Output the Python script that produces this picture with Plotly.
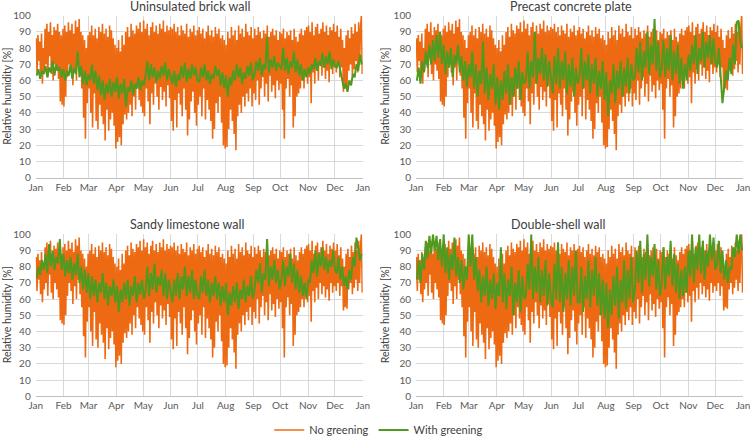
import numpy as np
import plotly.graph_objects as go

# ---------------- data ----------------
months = ["Jan", "Feb", "Mar", "Apr", "May", "Jun", "Jul", "Aug", "Sep", "Oct", "Nov", "Dec", "Jan"]
month_start_days = [0, 31, 59, 90, 120, 151, 181, 212, 243, 273, 304, 334, 365]

panel_titles = ["Uninsulated brick wall", "Precast concrete plate",
                "Sandy limestone wall", "Double-shell wall"]

# No greening (same outdoor-side series in all four panels), ~daily extremes
no_greening = (
    [86,65,88,72,84,63,89,58,80,66,92,70,95,62,90,75,96,64,88,60,93,70,91,66,95,61,90,47,88,45,92]
    + [44,94,50,90,62,96,70,91,65,95,57,89,68,97,60,93,72,98,63,90,55,88,37,85,24,80,46,88]
    + [55,90,40,94,31,88,52,92,35,86,30,93,45,90,38,95,33,89,23,92,42,87,29,94,36,91,40,86,32,82,18]
    + [80,22,85,25,78,20,88,33,82,39,90,36,93,40,87,45,95,38,91,50,89,42,94,55,92,48,96,44,90,40]
    + [97,38,92,55,95,47,88,33,93,52,96,45,90,58,94,50,89,42,95,56,92,48,97,53,90,44,94,57,91,49,93]
    + [35,92,29,95,48,90,31,93,52,88,45,94,38,91,55,89,42,95,26,87,36,92,47,90,53,94,40,88,32,91]
    + [45,93,50,89,38,92,55,86,36,90,48,94,42,88,35,91,24,87,30,93,46,89,40,92,50,86,34,88,20,85,18]
    + [82,19,90,30,86,42,93,35,88,27,91,17,85,38,94,45,89,40,92,50,87,44,95,52,90,47,88,55,93,44,86]
    + [52,92,48,88,60,93,45,90,55,86,62,91,50,89,58,94,47,87,63,90,53,92,57,88,49,91,60,85,54,90]
    + [58,89,42,92,24,86,55,90,61,88,50,91,57,85,31,92,38,87,50,84,52,89,55,92,60,88,55,91,64,93,58]
    + [94,62,90,46,96,65,88,58,93,67,95,60,89,70,92,63,96,68,90,61,94,66,88,59,93,70,91,64,95,68]
    + [90,65,94,70,87,62,92,68,85,53,80,55,88,54,91,66,86,70,93,63,89,67,95,72,90,65,96,70,92,100,64]
)

# With greening, ~2-day extremes, one series per wall type
green_brick = (
    [63,67,61,66,64,69,62,68,65,72,63,70,66,68,62,67]
    + [60,66,63,70,61,68,64,78,62,69,58,66,57,64]
    + [60,70,58,66,54,63,51,60,48,58,52,61,50,59,53,62]
    + [49,58,52,61,44,56,53,60,51,58,55,62,54,60,57]
    + [63,72,60,70,62,68,59,66,61,69,63,71,60,67,62]
    + [58,66,56,64,60,69,62,71,59,67,61,70,63,68,60]
    + [59,68,62,70,60,66,58,64,61,69,63,67,57,65,55,63]
    + [50,62,57,66,60,70,62,68,58,65,61,69,63,71,60]
    + [64,72,66,74,63,70,67,87,65,73,68,75,66,71,69]
    + [67,80,66,74,64,72,68,78,65,73,63,70,60,67,62,68]
    + [64,70,67,74,66,72,69,77,68,75,70,78,67,73,69]
    + [68,72,66,60,55,58,53,60,57,64,62,70,66,76,70]
)
green_concrete = (
    [60,68,58,72,65,78,68,82,70,85,72,88,74,90,70,82]
    + [64,78,68,80,62,76,70,82,65,75,60,72,56,70]
    + [62,78,55,70,50,66,58,84,52,68,48,64,55,70,45,62]
    + [42,60,48,66,52,70,45,62,50,68,55,72,48,65,58]
    + [60,78,55,72,62,90,58,74,64,80,60,76,56,72,62]
    + [52,75,58,80,55,72,60,78,52,70,56,74,50,68,58]
    + [62,80,55,72,60,76,52,70,58,74,50,66,55,72,48,65]
    + [38,60,52,70,46,66,55,72,50,68,56,74,52,70,60]
    + [62,80,65,84,60,78,68,90,64,82,70,98,66,84,62]
    + [68,85,62,80,66,88,60,78,64,82,58,74,55,70,60,76]
    + [66,82,70,88,64,80,72,90,68,84,74,88,70,86,72]
    + [68,80,62,46,56,66,60,74,64,82,70,96,97,84,80]
)
green_limestone = (
    [73,80,75,84,78,88,76,94,80,90,78,86,82,97,78,88]
    + [74,84,76,86,72,82,75,88,70,80,66,78,64,76]
    + [60,74,62,72,58,70,64,76,60,70,56,68,62,72,58,68]
    + [52,66,58,70,60,72,56,68,62,74,58,70,63,72,60]
    + [65,80,62,76,66,82,64,74,68,78,62,76,60,72,64]
    + [58,72,62,76,60,74,66,80,62,74,64,78,60,72,62]
    + [60,74,64,78,62,72,58,70,62,74,60,70,56,68,58,70]
    + [50,64,56,68,58,70,54,66,60,72,58,68,62,74,60]
    + [66,78,70,82,64,76,72,97,68,80,72,84,70,78,66]
    + [72,84,68,80,74,88,70,82,66,78,64,74,62,70,60,72]
    + [70,84,76,90,74,88,80,92,78,86,76,84,80,90,78]
    + [76,86,72,80,68,74,66,78,72,86,80,98,90,84,88]
)
green_double = (
    [72,84,70,88,78,96,85,99,88,100,90,99,84,97,80,100]
    + [76,92,72,88,78,98,74,86,70,84,66,80,72,100]
    + [80,100,72,86,65,78,58,74,62,80,56,72,60,76,54,70]
    + [62,92,58,76,54,72,62,80,50,70,58,78,52,74,60]
    + [62,82,66,100,60,80,64,86,58,78,62,84,56,76,60]
    + [55,82,60,95,58,80,52,76,60,84,56,80,62,90,58]
    + [58,80,52,74,60,84,55,78,62,86,56,76,50,72,48,70]
    + [42,66,50,74,56,80,48,72,58,84,54,78,60,86,58]
    + [66,90,70,96,64,88,72,100,68,86,74,94,66,84,62]
    + [70,92,66,86,74,96,68,88,64,82,60,78,62,80,64,90]
    + [74,100,70,92,78,100,76,96,72,90,80,100,84,98,78]
    + [82,96,76,90,72,84,70,80,78,92,86,100,88,100,90]
)
green_series = [green_brick, green_concrete, green_limestone, green_double]

# ---------------- styling ----------------
ORANGE = "#EE6A12"
GREEN = "#4F9A1F"
GRID = "#D9D9D9"
TICK = "#595959"
FONT = "Lato"

W, H = 750, 437
# plot areas in pixels (left, right, top, bottom)
boxes = [(35.7, 362.7, 15.7, 177.7), (416.0, 743.0, 15.7, 177.7),
         (35.7, 362.7, 234.3, 396.3), (416.0, 743.0, 234.3, 396.3)]
title_pos = [(190, 7), (571, 7), (187, 224), (558, 224)]
ytitle_x = [7, 385, 7, 385]

fig = go.Figure()

def xvals(series):
    n = len(series)
    return np.arange(n) * (365.0 / n) + 0.5 * 365.0 / n

for k in range(4):
    ax = "" if k == 0 else str(k + 1)
    fig.add_trace(go.Scatter(
        x=xvals(no_greening), y=no_greening, mode="lines",
        line=dict(color=ORANGE, width=1.6),
        name="No greening", legendgroup="no", showlegend=(k == 0),
        xaxis="x" + ax, yaxis="y" + ax, hoverinfo="skip"))
    g = green_series[k]
    fig.add_trace(go.Scatter(
        x=xvals(g), y=g, mode="lines",
        line=dict(color=GREEN, width=2.0),
        name="With greening", legendgroup="with", showlegend=(k == 0),
        xaxis="x" + ax, yaxis="y" + ax, hoverinfo="skip"))

layout = dict(
    template="none",
    width=W, height=H,
    margin=dict(l=0, r=0, t=0, b=0, autoexpand=False),
    paper_bgcolor="white", plot_bgcolor="white",
    font=dict(family=FONT, size=10, color=TICK),
    showlegend=True,
    legend=dict(orientation="h", x=0.505, y=1 - 430 / H, xanchor="center", yanchor="middle",
                font=dict(family=FONT, size=11, color="#404040"),
                itemwidth=30, tracegroupgap=0, bgcolor="rgba(0,0,0,0)"),
)
annotations = []
for k, (l, r, t, b) in enumerate(boxes):
    ax = "" if k == 0 else str(k + 1)
    layout["xaxis" + ax] = dict(
        domain=[l / W, r / W], anchor="y" + ax, range=[0, 365], automargin=False,
        tickmode="array", tickvals=month_start_days, ticktext=months,
        showgrid=True, gridcolor=GRID, gridwidth=1, zeroline=False,
        showline=True, linecolor="#BFBFBF", linewidth=1, ticks="",
        ticklabeloverflow="allow",
        tickfont=dict(family=FONT, size=10, color=TICK), fixedrange=True)
    layout["yaxis" + ax] = dict(
        domain=[1 - b / H, 1 - t / H], anchor="x" + ax, range=[0, 100], automargin=False,
        tickmode="linear", tick0=0, dtick=10,
        showgrid=True, gridcolor=GRID, gridwidth=1, zeroline=False,
        showline=False, ticks="", ticklabelstandoff=4,
        tickfont=dict(family=FONT, size=10, color=TICK), fixedrange=True)
    tx, ty = title_pos[k]
    annotations.append(dict(text=panel_titles[k], x=tx / W, y=1 - ty / H, xref="paper", yref="paper",
                            xanchor="center", yanchor="middle", showarrow=False,
                            font=dict(family=FONT, size=12.5, color="#404040")))
    annotations.append(dict(text="Relative humidity [%]", x=ytitle_x[k] / W, y=1 - (t + b) / 2 / H,
                            xref="paper", yref="paper", xanchor="center", yanchor="middle",
                            textangle=-90, showarrow=False,
                            font=dict(family=FONT, size=10.5, color="#404040")))
layout["annotations"] = annotations
fig.update_layout(**layout)

fig.write_html("out.html", config={"displayModeBar": False},
               post_script="document.body.style.margin='0px';document.body.style.overflow='hidden';")
